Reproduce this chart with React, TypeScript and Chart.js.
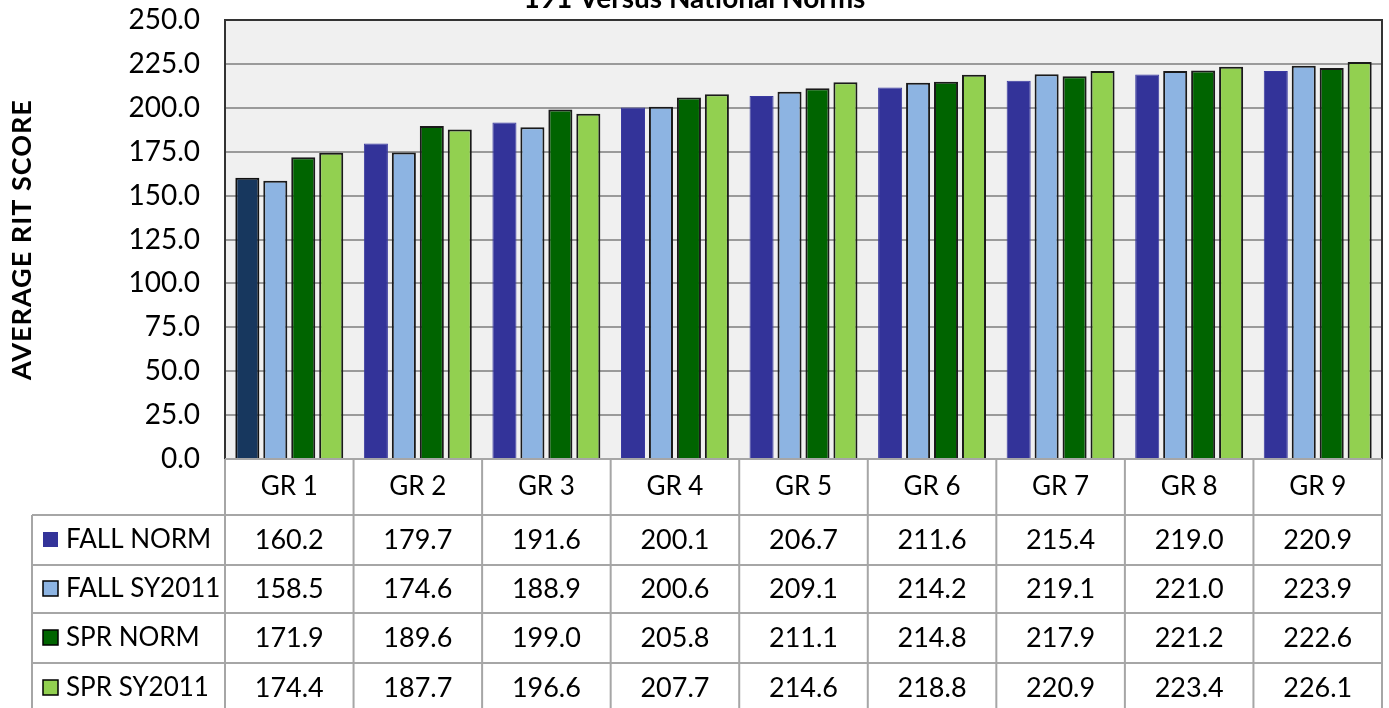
import React, { useEffect, useRef } from "react";
import { Chart, registerables } from "chart.js";

Chart.register(...registerables);

const CHART_TITLE = "191 Versus National Norms";
const Y_TITLE = "AVERAGE RIT SCORE";
const GRADES = ["GR 1", "GR 2", "GR 3", "GR 4", "GR 5", "GR 6", "GR 7", "GR 8", "GR 9"];
const SERIES_NAMES = ["FALL NORM", "FALL SY2011", "SPR NORM", "SPR SY2011"];
const FALL_NORM = [160.2, 179.7, 191.6, 200.1, 206.7, 211.6, 215.4, 219.0, 220.9];
const FALL_SY2011 = [158.5, 174.6, 188.9, 200.6, 209.1, 214.2, 219.1, 221.0, 223.9];
const SPR_NORM = [171.9, 189.6, 199.0, 205.8, 211.1, 214.8, 217.9, 221.2, 222.6];
const SPR_SY2011 = [174.4, 187.7, 196.6, 207.7, 214.6, 218.8, 220.9, 223.4, 226.1];
const Y_MIN = 0;
const Y_MAX = 250;
const Y_STEP = 25;

const COLORS = ["#333399", "#8DB4E2", "#006400", "#92D050"];
const FIRST_BAR_COLOR = "#17375E";
const FONT = "Lato, 'Open Sans', sans-serif";
const GRID = "#9a9a9a";
const TABLE_LINE = "#a6a6a6";

const tablePlugin = {
  id: "tablePlugin",
  beforeDraw(chart: any) {
    const { ctx, chartArea } = chart;
    ctx.save();
    ctx.fillStyle = "#ffffff";
    ctx.fillRect(0, 0, chart.width, chart.height);
    ctx.fillStyle = "#f0f0f0";
    ctx.fillRect(chartArea.left, chartArea.top, chartArea.right - chartArea.left, chartArea.bottom - chartArea.top);
    ctx.restore();
  },
  afterDraw(chart: any) {
    const { ctx, chartArea } = chart;
    const xs = chart.scales.x;
    const n = GRADES.length;
    const cw = (chartArea.right - chartArea.left) / n;
    const left = chartArea.left;
    const right = chartArea.right;
    const top = chartArea.bottom;
    const headerBottom = top + 56;
    const rowBounds = [headerBottom, headerBottom + 50, headerBottom + 98, headerBottom + 148, headerBottom + 198];
    const legendLeft = 32;
    const allSeries = [FALL_NORM, FALL_SY2011, SPR_NORM, SPR_SY2011];

    ctx.save();
    // plot border
    ctx.strokeStyle = "#333333";
    ctx.lineWidth = 2;
    ctx.beginPath();
    ctx.moveTo(left, top);
    ctx.lineTo(left, chartArea.top);
    ctx.lineTo(right, chartArea.top);
    ctx.lineTo(right, top);
    ctx.stroke();

    // table lines
    ctx.strokeStyle = TABLE_LINE;
    ctx.lineWidth = 2;
    ctx.beginPath();
    ctx.moveTo(left, top);
    ctx.lineTo(right, top);
    for (let i = 0; i <= n; i++) {
      const x = left + i * cw;
      ctx.moveTo(x, top);
      ctx.lineTo(x, chart.height + 10);
    }
    for (let r = 0; r < rowBounds.length; r++) {
      ctx.moveTo(legendLeft, rowBounds[r]);
      ctx.lineTo(right, rowBounds[r]);
    }
    ctx.moveTo(legendLeft, headerBottom);
    ctx.lineTo(legendLeft, chart.height + 10);
    ctx.stroke();

    // header text
    ctx.fillStyle = "#000000";
    ctx.textAlign = "center";
    ctx.textBaseline = "middle";
    ctx.font = `26px ${FONT}`;
    for (let i = 0; i < n; i++) {
      const cx = xs.getPixelForValue(i);
      ctx.fillText(GRADES[i], cx, (top + headerBottom) / 2);
    }

    // values
    ctx.font = `27px ${FONT}`;
    for (let s = 0; s < allSeries.length; s++) {
      const cy = (rowBounds[s] + rowBounds[s + 1]) / 2;
      for (let i = 0; i < n; i++) {
        const cx = xs.getPixelForValue(i);
        ctx.fillText(allSeries[s][i].toFixed(1), cx, cy);
      }
    }

    // legend keys
    ctx.textAlign = "left";
    ctx.font = `26px ${FONT}`;
    for (let s = 0; s < SERIES_NAMES.length; s++) {
      const cy = (rowBounds[s] + rowBounds[s + 1]) / 2;
      ctx.fillStyle = COLORS[s];
      ctx.fillRect(43, cy - 8, 15, 15);
      if (s > 0) {
        ctx.strokeStyle = "#000000";
        ctx.lineWidth = 1.5;
        ctx.strokeRect(43, cy - 8, 15, 15);
      }
      ctx.fillStyle = "#000000";
      ctx.fillText(SERIES_NAMES[s], 66, cy);
    }

    // y-axis title
    ctx.save();
    ctx.translate(22, (chartArea.top + chartArea.bottom) / 2);
    ctx.rotate(-Math.PI / 2);
    ctx.textAlign = "center";
    ctx.textBaseline = "middle";
    ctx.font = `bold 27px ${FONT}`;
    (ctx as any).letterSpacing = "1px";
    ctx.fillText(Y_TITLE, 0, 0);
    ctx.restore();

    // chart title (partially cut at top)
    ctx.textAlign = "center";
    ctx.textBaseline = "alphabetic";
    ctx.font = `bold 28px ${FONT}`;
    ctx.fillText(CHART_TITLE, chart.width / 2, 8);
    ctx.restore();
  },
};

export default function App() {
  const ref = useRef<HTMLCanvasElement | null>(null);

  useEffect(() => {
    document.body.style.margin = "0";
    const canvas = ref.current;
    if (!canvas) return;
    const data = [FALL_NORM, FALL_SY2011, SPR_NORM, SPR_SY2011];
    const chart = new Chart(canvas, {
      type: "bar",
      data: {
        labels: GRADES,
        datasets: SERIES_NAMES.map((name, s) => ({
          label: name,
          data: data[s],
          backgroundColor: s === 0 ? data[s].map((_, i) => (i === 0 ? FIRST_BAR_COLOR : COLORS[0])) : COLORS[s],
          borderColor: s === 0 ? data[s].map((_, i) => (i === 0 ? "#111111" : "#3a3aa0")) : "#1a1a1a",
          borderWidth: s === 0 ? data[s].map((_, i) => (i === 0 ? 2 : 1)) : 2,
          categoryPercentage: 0.87,
          barPercentage: 0.86,
        })),
      },
      plugins: [tablePlugin],
      options: {
        responsive: false,
        animation: false,
        layout: { padding: { top: 20, right: 7, bottom: 249, left: 0 } },
        plugins: {
          legend: { display: false },
          title: { display: false },
          tooltip: { enabled: false },
        },
        scales: {
          x: { display: false },
          y: {
            min: Y_MIN,
            max: Y_MAX,
            ticks: {
              stepSize: Y_STEP,
              padding: 25,
              color: "#000000",
              font: { family: FONT, size: 28 },
              callback: (v: any) => Number(v).toFixed(1),
            },
            grid: { color: GRID, lineWidth: 2, drawTicks: false },
            border: { display: false },
            afterFit: (scale: any) => {
              scale.width = 225;
              scale.paddingTop = 0;
              scale.paddingBottom = 0;
            },
          },
        },
      },
    });
    return () => chart.destroy();
  }, []);

  return <canvas ref={ref} width={1389} height={708} style={{ display: "block" }} />;
}
